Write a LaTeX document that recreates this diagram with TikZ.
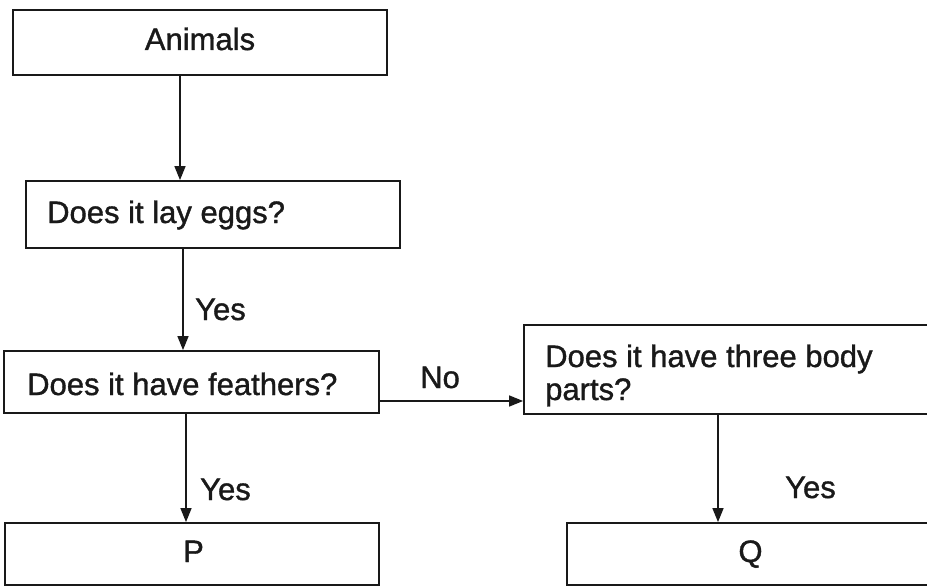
\documentclass[tikz,border=0pt]{standalone}
\usepackage{fontspec}
\setmainfont{Liberation Sans}
\newfontfamily\scanfont[FakeBold=1.2]{Liberation Sans}
\usetikzlibrary{arrows.meta}
\begin{document}
\begin{tikzpicture}[x=1pt,y=-1pt,
  box/.style={draw=black!90, line width=1.8pt, rectangle, inner sep=0pt},
  txt/.style={font=\scanfont\fontsize{31}{33}\selectfont, inner sep=0pt, text=black!90},
  arr/.style={draw=black!90, line width=1.5pt, -{Triangle[length=14pt,width=11pt]}}
]
\useasboundingbox (0,0) rectangle (927,586);
% boxes
\node[box, minimum width=374pt, minimum height=65pt] (animals) at (200,42.5) {};
\node[box, minimum width=374pt, minimum height=67pt] (eggs) at (213,214.5) {};
\node[box, minimum width=375pt, minimum height=62pt] (feathers) at (191.5,382) {};
\node[box, minimum width=405pt, minimum height=89pt] (three) at (726.5,369.5) {};
\node[box, minimum width=374pt, minimum height=62pt] (P) at (192,554) {};
\node[box, minimum width=362pt, minimum height=62pt] (Q) at (748,554) {};
% texts
\node[txt, anchor=base] (tanimals) at (200,50) {Animals};
\node[txt, anchor=base west] (teggs) at (47,223) {Does it lay eggs?};
\node[txt, anchor=base west] (tfeathers) at (27,395) {Does it have feathers?};
\node[txt, anchor=base west] (tthree1) at (545,367) {Does it have three body};
\node[txt, anchor=base west] (tthree2) at (545,400) {parts?};
\node[txt, anchor=base] (tP) at (193.5,562) {P};
\node[txt, anchor=base] (tQ) at (750.5,562) {Q};
% connector labels
\node[txt, anchor=base west] (yes1) at (195,320) {Yes};
\node[txt, anchor=base west] (no1) at (420,388) {No};
\node[txt, anchor=base west] (yes2) at (200,500) {Yes};
\node[txt, anchor=base west] (yes3) at (785,498) {Yes};
% connectors
\draw[arr] ([xshift=-20pt]animals.south) -- ([xshift=-20pt]animals.south |- eggs.north);
\draw[arr] ([xshift=-30pt]eggs.south) -- ([xshift=-30pt]eggs.south |- feathers.north);
\draw[arr] ([yshift=-19pt]feathers.east) -- ([yshift=-19pt]feathers.east -| three.west);
\draw[arr] ([xshift=-5.5pt]feathers.south) -- ([xshift=-5.5pt]feathers.south |- P.north);
\draw[arr] ([xshift=-8.5pt]three.south) -- ([xshift=-8.5pt]three.south |- Q.north);
\end{tikzpicture}
\end{document}
